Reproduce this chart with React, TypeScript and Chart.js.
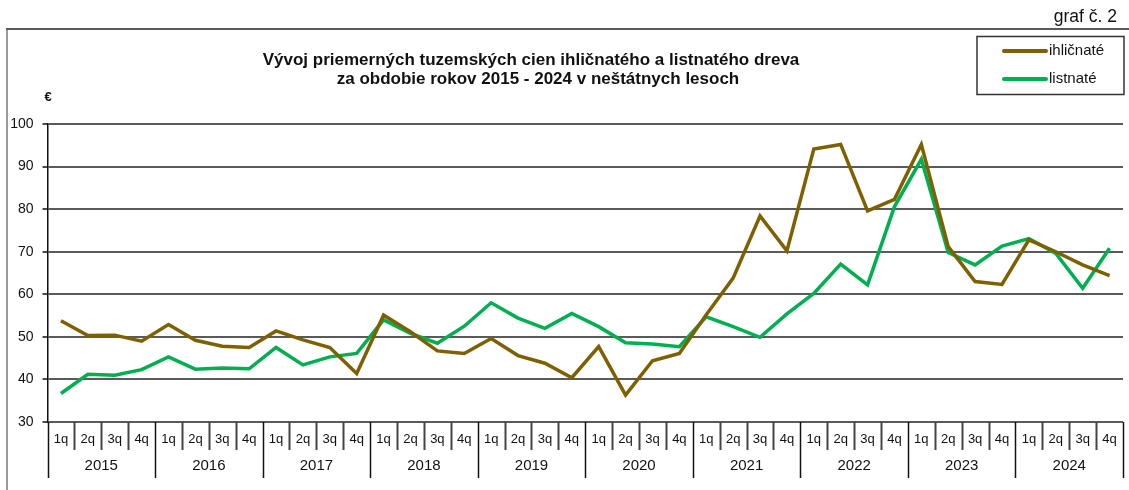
import React, { useEffect, useRef } from "react";
import { Chart, registerables } from "chart.js";

Chart.register(...registerables);

const years: string[] = ["2015", "2016", "2017", "2018", "2019", "2020", "2021", "2022", "2023", "2024"];
const quarters: string[] = ["1q", "2q", "3q", "4q"];
const categories: string[] = years.flatMap((y) => quarters.map((q) => `${q} ${y}`));

const ihlicnate: number[] = [
  53.8, 50.3, 50.4, 49.0,
  52.9, 49.2, 47.8, 47.5,
  51.4, 49.3, 47.5, 41.4,
  55.1, 51.2, 46.7, 46.1,
  49.6, 45.6, 43.8, 40.4,
  47.7, 36.3, 44.4, 46.1,
  55.2, 63.8, 78.4, 70.2,
  94.1, 95.2, 79.6, 82.3,
  95.2, 71.2, 63.0, 62.3,
  72.8, 70.0, 66.9, 64.4,
];

const listnate: number[] = [
  36.7, 41.2, 41.0, 42.3,
  45.3, 42.4, 42.7, 42.5,
  47.5, 43.4, 45.3, 46.1,
  54.0, 50.8, 48.5, 52.5,
  58.0, 54.4, 52.0, 55.5,
  52.4, 48.6, 48.3, 47.7,
  54.7, 52.4, 49.9, 55.4,
  60.2, 67.1, 62.2, 80.6,
  91.7, 69.8, 66.9, 71.3,
  73.1, 69.6, 61.4, 70.8,
];

const yTicks: number[] = [30, 40, 50, 60, 70, 80, 90, 100];
const titleLines: string[] = [
  "Vývoj priemerných tuzemských cien ihličnatého a listnatého dreva",
  "za obdobie rokov 2015 - 2024 v neštátnych lesoch",
];
const seriesNames: string[] = ["ihličnaté", "listnaté"];
const seriesColors: string[] = ["#7F6000", "#00B050"];
const graphLabel = "graf č. 2";
const unitLabel = "€";

const FONT = "'Liberation Sans', Arial, sans-serif";

const decorPlugin = {
  id: "decor",
  afterDraw(chart: any) {
    const ctx: CanvasRenderingContext2D = chart.ctx;
    const area = chart.chartArea;
    const xs = chart.scales.x;
    ctx.save();

    // frame lines
    ctx.lineWidth = 2;
    ctx.strokeStyle = "#9a9a9a";
    ctx.beginPath();
    ctx.moveTo(7, 29);
    ctx.lineTo(7, 490);
    ctx.stroke();
    ctx.strokeStyle = "#5a5a5a";
    ctx.beginPath();
    ctx.moveTo(6, 29);
    ctx.lineTo(1129, 29);
    ctx.stroke();

    // graf label
    ctx.fillStyle = "#111";
    ctx.font = `17.5px ${FONT}`;
    ctx.textAlign = "right";
    ctx.textBaseline = "middle";
    ctx.fillText(graphLabel, 1117, 17);

    // title
    ctx.font = `bold 17px ${FONT}`;
    ctx.textAlign = "center";
    ctx.fillText(titleLines[0], 531, 60);
    ctx.fillText(titleLines[1], 538, 79);

    // unit
    ctx.font = `bold 13px ${FONT}`;
    ctx.textAlign = "center";
    ctx.fillText(unitLabel, 48, 97);

    // legend
    ctx.strokeStyle = "#333";
    ctx.lineWidth = 1.5;
    ctx.strokeRect(977, 36.5, 147, 58);
    ctx.lineWidth = 4;
    ctx.lineCap = "round";
    const legY = [51, 79];
    seriesNames.forEach((n, i) => {
      ctx.strokeStyle = seriesColors[i];
      ctx.beginPath();
      ctx.moveTo(1004, legY[i]);
      ctx.lineTo(1046, legY[i]);
      ctx.stroke();
      ctx.fillStyle = "#111";
      ctx.font = `15px ${FONT}`;
      ctx.textAlign = "left";
      ctx.fillText(n, 1049, legY[i]);
    });
    ctx.lineCap = "butt";

    // category axis (two-level)
    const n = categories.length;
    const w = (area.right - area.left) / n;
    const bottom = area.bottom;
    for (let i = 0; i <= n; i++) {
      const x = Math.round(area.left + i * w) + 0.5;
      const isYear = i % 4 === 0;
      ctx.strokeStyle = isYear ? "#111" : "#444";
      ctx.lineWidth = isYear ? 1.5 : 2;
      ctx.beginPath();
      ctx.moveTo(x, bottom);
      ctx.lineTo(x, isYear ? 478 : 450);
      ctx.stroke();
    }
    ctx.fillStyle = "#111";
    ctx.textAlign = "center";
    ctx.textBaseline = "middle";
    ctx.font = `13px ${FONT}`;
    categories.forEach((c, i) => {
      const x = xs.getPixelForValue(i);
      ctx.fillText(quarters[i % 4], x, 439);
    });
    ctx.font = `15px ${FONT}`;
    years.forEach((y, i) => {
      const x = area.left + (i * 4 + 2) * w;
      ctx.fillText(y, x, 466);
    });

    ctx.restore();
  },
};

export default function App() {
  const ref = useRef<HTMLCanvasElement | null>(null);
  useEffect(() => {
    if (!ref.current) return;
    const chart = new Chart(ref.current, {
      type: "line",
      data: {
        labels: categories,
        datasets: [
          {
            label: seriesNames[0],
            data: ihlicnate,
            borderColor: seriesColors[0],
            backgroundColor: seriesColors[0],
            borderWidth: 3.5,
            pointRadius: 0,
            tension: 0,
          },
          {
            label: seriesNames[1],
            data: listnate,
            borderColor: seriesColors[1],
            backgroundColor: seriesColors[1],
            borderWidth: 3.5,
            pointRadius: 0,
            tension: 0,
          },
        ],
      },
      options: {
        animation: false,
        responsive: false,
        devicePixelRatio: 1,
        layout: { padding: { left: 0, top: 124, right: 6, bottom: 0 } },
        plugins: {
          legend: { display: false },
          title: { display: false },
          tooltip: { enabled: false },
        },
        scales: {
          x: {
            type: "category",
            offset: true,
            grid: { display: false },
            border: { display: false },
            ticks: { display: false },
            afterFit: (s: any) => {
              s.height = 68;
            },
          },
          y: {
            min: 30,
            max: 100,
            afterBuildTicks: (s: any) => {
              s.ticks = yTicks.map((v) => ({ value: v }));
            },
            afterFit: (s: any) => {
              s.width = 47.5;
            },
            grid: {
              color: "#5a5a5a",
              lineWidth: 2,
              drawTicks: true,
              tickLength: 5,
              tickColor: "#111",
              tickWidth: 1.5,
            },
            border: { display: true, color: "#111", width: 1.5 },
            ticks: {
              color: "#111",
              padding: 9,
              font: { family: FONT, size: 14 },
            },
          },
        },
      },
      plugins: [decorPlugin],
    });
    return () => chart.destroy();
  }, []);
  return (
    <div style={{ position: "absolute", left: 0, top: 0, width: 1129, height: 490, background: "#fff" }}>
      <canvas ref={ref} width={1129} height={490} style={{ display: "block" }} />
    </div>
  );
}
